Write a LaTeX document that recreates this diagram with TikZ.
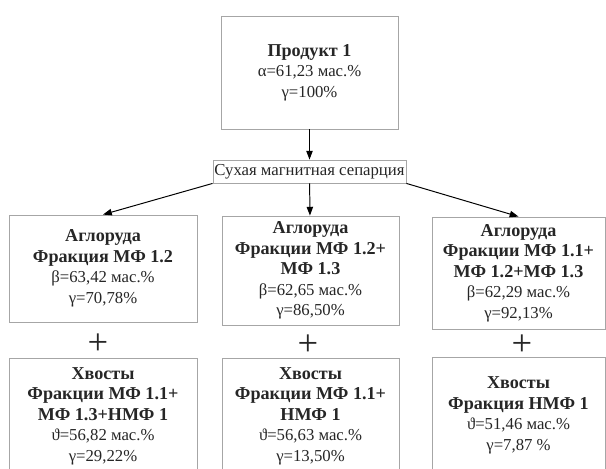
\documentclass[tikz,border=0pt]{standalone}
\usepackage{fontspec}
\setmainfont{Liberation Serif}
\usetikzlibrary{arrows.meta}
\newcommand{\hd}[1]{{\fontsize{12.9}{14.6}\selectfont\bfseries #1}}
\begin{document}
\begin{tikzpicture}[
    box/.style={draw=gray!70, line width=0.6pt, align=center, inner sep=2pt,
        font=\fontsize{11.9}{14.6}\selectfont, text=black!85},
    flow/.style={-{Triangle[length=0.22cm,width=0.16cm]}, black, line width=0.7pt},
    plus/.style={font=\fontsize{26}{26}\selectfont, text=black!85, inner sep=0pt}
]
    \clip (0,0) rectangle (15.15,-11.725);
    %Product
    \node[box, minimum width=4.425cm, minimum height=2.825cm] (prod) at (7.7375,-1.8125)
        {\hd{Продукт 1}\\α=61,23 мас.\%\\γ=100\%};
    %Separation
    \node[box, minimum width=4.825cm, minimum height=0.575cm, inner sep=1pt] (sep) at (7.7375,-4.2875)
        {Сухая магнитная сепарция};
    %Sinter ore
    \node[box, minimum width=4.7cm, minimum height=2.675cm] (ore1) at (2.575,-6.7125)
        {\hd{Аглоруда}\\\hd{Фракция МФ 1.2}\\β=63,42 мас.\%\\γ=70,78\%};
    \node[box, minimum width=4.425cm, minimum height=2.725cm] (ore2) at (7.7625,-6.7625)
        {\hd{Аглоруда}\\\hd{Фракции МФ 1.2+}\\\hd{МФ 1.3}\\β=62,65 мас.\%\\γ=86,50\%};
    \node[box, minimum width=4.325cm, minimum height=2.8cm] (ore3) at (12.9625,-6.825)
        {\hd{Аглоруда}\\\hd{Фракции МФ 1.1+}\\\hd{МФ 1.2+МФ 1.3}\\β=62,29 мас.\%\\γ=92,13\%};
    %Plus
    \node[plus] (p1) at (2.45,-8.6) {+};
    \node[plus] (p2) at (7.7,-8.62) {+};
    \node[plus] (p3) at (13.05,-8.62) {+};
    %Tails
    \node[box, minimum width=4.7cm, minimum height=2.9cm] (tail1) at (2.575,-10.4)
        {\hd{Хвосты}\\\hd{Фракции МФ 1.1+}\\\hd{МФ 1.3+НМФ 1}\\ϑ=56,82 мас.\%\\γ=29,22\%};
    \node[box, minimum width=4.425cm, minimum height=2.9cm] (tail2) at (7.7625,-10.4)
        {\hd{Хвосты}\\\hd{Фракции МФ 1.1+}\\\hd{НМФ 1}\\ϑ=56,63 мас.\%\\γ=13,50\%};
    \node[box, minimum width=4.325cm, minimum height=2.9cm] (tail3) at (12.9625,-10.38)
        {\hd{Хвосты}\\\hd{Фракция НМФ 1}\\ϑ=51,46 мас.\%\\γ=7,87 \%};
    %Arrows
    \draw[flow] (prod) -- (sep);
    \draw[flow] (sep.south west) -- (ore1.north);
    \draw[flow] (sep) -- (ore2);
    \draw[flow] (sep.south east) -- (ore3.north);
\end{tikzpicture}
\end{document}
